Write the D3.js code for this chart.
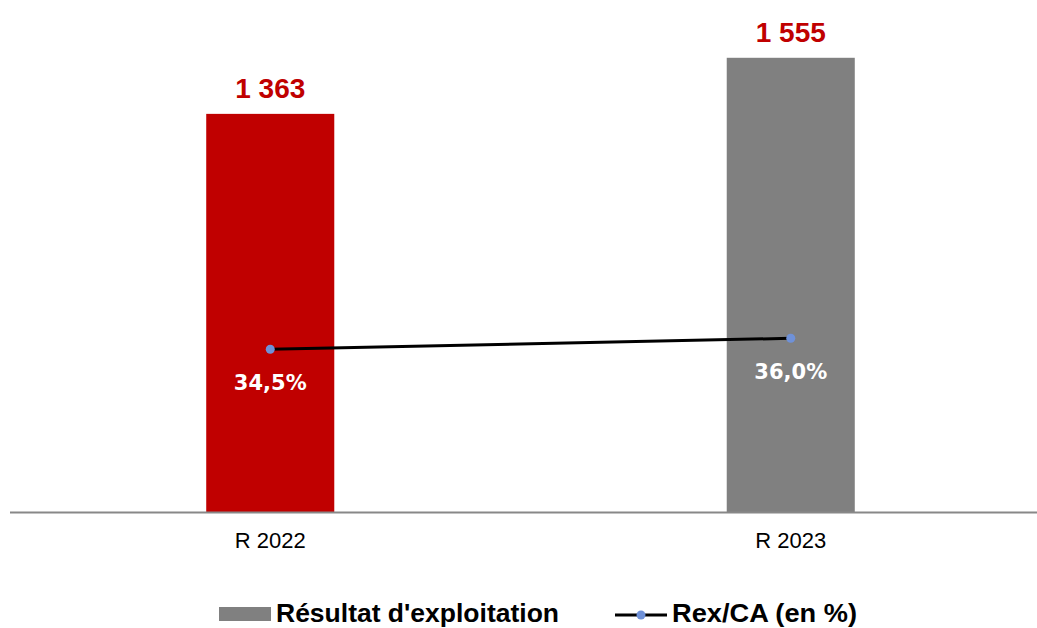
<!DOCTYPE html>
<html><head><meta charset="utf-8">
<script src="https://cdn.jsdelivr.net/npm/d3@7"></script>
<style>body{margin:0;background:#fff;}svg{display:block;}</style>
</head><body>
<svg id="c" width="1037" height="628"></svg>
<script>
const categories = ["R 2022", "R 2023"];
const rexValues = [1363, 1555];
const rexLabels = ["1 363", "1 555"];
const ratioValues = [34.5, 36.0];
const ratioLabels = ["34,5%", "36,0%"];
const barColors = ["#C00000", "#808080"];
const legendLabels = ["Résultat d'exploitation", "Rex/CA (en %)"];

const svg = d3.select("#c");
const W = 1037, baseY = 512, left = 10;

const x = d3.scaleBand().domain(categories).range([10, 1051]).paddingInner(0.754).paddingOuter(0.377);
const y = d3.scaleLinear().domain([0, 1600]).range([baseY, baseY - 1600 * 0.2921]);
const y2 = d3.scaleLinear().domain([12.3, 60]).range([baseY, baseY - (60 - 12.3) * 7.33]);

// bars
svg.selectAll("rect.bar").data(rexValues).join("rect")
  .attr("class", "bar")
  .attr("x", (d, i) => x(categories[i]))
  .attr("width", x.bandwidth())
  .attr("y", d => y(d))
  .attr("height", d => baseY - y(d))
  .attr("fill", (d, i) => barColors[i]);

// axis
const xAxis = d3.axisBottom(x).tickSize(0).tickPadding(20);
const gx = svg.append("g").attr("transform", `translate(0,${baseY})`).call(xAxis);
gx.select(".domain").attr("d", `M${left},0.5H${W}`).attr("stroke", "#888").attr("stroke-width", 2);
gx.selectAll("text").attr("font-family", "Liberation Sans, Arial, sans-serif")
  .attr("font-size", 22).attr("fill", "#000").attr("dy", "0.71em");

// value labels
svg.selectAll("text.val").data(rexValues).join("text")
  .attr("class", "val")
  .attr("x", (d, i) => x(categories[i]) + x.bandwidth() / 2)
  .attr("y", d => y(d) - 16)
  .attr("text-anchor", "middle")
  .attr("font-family", "Liberation Sans, Arial, sans-serif")
  .attr("font-weight", "bold").attr("font-size", 28).attr("fill", "#C00000")
  .text((d, i) => rexLabels[i]);

// line
const cx = i => x(categories[i]) + x.bandwidth() / 2;
const line = d3.line().x((d, i) => cx(i)).y(d => y2(d));
svg.append("path").datum(ratioValues).attr("d", line)
  .attr("fill", "none").attr("stroke", "#000").attr("stroke-width", 3);
svg.selectAll("circle.pt").data(ratioValues).join("circle")
  .attr("class", "pt").attr("cx", (d, i) => cx(i)).attr("cy", d => y2(d))
  .attr("r", 4.5).attr("fill", "#6F91D8");
svg.selectAll("text.pct").data(ratioValues).join("text")
  .attr("class", "pct").attr("x", (d, i) => cx(i)).attr("y", d => y2(d) + 41)
  .attr("text-anchor", "middle")
  .attr("font-family", "DejaVu Sans, sans-serif").attr("font-weight", "bold")
  .attr("font-size", 21).attr("fill", "#fff")
  .text((d, i) => ratioLabels[i]);

// legend
const lg = svg.append("g").attr("font-family", "Liberation Sans, Arial, sans-serif")
  .attr("font-weight", "bold").attr("font-size", 26).attr("fill", "#000");
lg.append("rect").attr("x", 219).attr("y", 607).attr("width", 52).attr("height", 14).attr("fill", "#808080");
lg.append("text").attr("x", 276).attr("y", 622).text(legendLabels[0]).attr("textLength", 283).attr("lengthAdjust", "spacingAndGlyphs");
lg.append("line").attr("x1", 615).attr("x2", 667).attr("y1", 615).attr("y2", 615).attr("stroke", "#000").attr("stroke-width", 3);
lg.append("circle").attr("cx", 641).attr("cy", 615).attr("r", 4.5).attr("fill", "#6F91D8");
lg.append("text").attr("x", 672).attr("y", 622).text(legendLabels[1]).attr("textLength", 185).attr("lengthAdjust", "spacingAndGlyphs");
</script>
</body></html>
